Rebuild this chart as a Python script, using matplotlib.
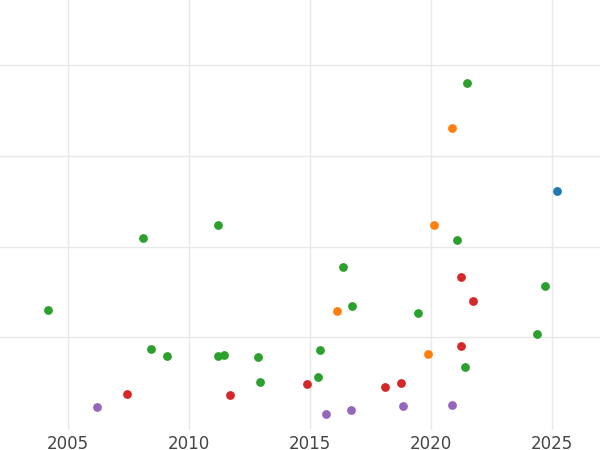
import matplotlib
matplotlib.use("Agg")
import matplotlib.pyplot as plt

green_x = [2004.17, 2008.10, 2011.20, 2021.49, 2021.07, 2016.36, 2016.74, 2019.46, 2024.71, 2024.38,
           2008.43, 2009.09, 2011.20, 2011.45, 2012.85, 2015.41, 2012.93, 2015.33, 2021.40]
green_y = [1.30, 2.09, 2.24, 3.80, 2.07, 1.77, 1.35, 1.27, 1.57, 1.04,
           0.87, 0.79, 0.79, 0.80, 0.78, 0.86, 0.51, 0.56, 0.67]
orange_x = [2020.87, 2020.12, 2016.12, 2019.88]
orange_y = [3.31, 2.24, 1.29, 0.82]
blue_x = [2025.21]
blue_y = [2.61]
red_x = [2021.24, 2021.74, 2021.24, 2007.44, 2011.69, 2014.88, 2018.10, 2018.76]
red_y = [1.67, 1.40, 0.90, 0.37, 0.36, 0.48, 0.45, 0.50]
purple_x = [2006.20, 2015.66, 2016.69, 2018.84, 2020.87]
purple_y = [0.23, 0.15, 0.20, 0.24, 0.25]

fig = plt.figure(figsize=(6, 4.5), dpi=100)
ax = fig.add_axes([0, 0.045, 1, 0.955])
for xs, ys, c in [(green_x, green_y, "#2ca02c"), (orange_x, orange_y, "#ff7f0e"),
                  (blue_x, blue_y, "#1f77b4"), (red_x, red_y, "#d62728"),
                  (purple_x, purple_y, "#9467bd")]:
    ax.scatter(xs, ys, s=40, color=c, zorder=3, linewidths=0)

ax.set_xlim(2002.19, 2026.98)
ax.set_ylim(-0.02, 4.72)
ax.set_xticks([2005, 2010, 2015, 2020, 2025])
ax.set_yticks([1, 2, 3, 4])
ax.set_yticklabels([])
ax.grid(True, color="#e8e8e8", linewidth=1, zorder=0)
ax.tick_params(length=0, labelsize=12, colors="#444444")
for s in ax.spines.values():
    s.set_visible(False)
fig.savefig("out.png")
